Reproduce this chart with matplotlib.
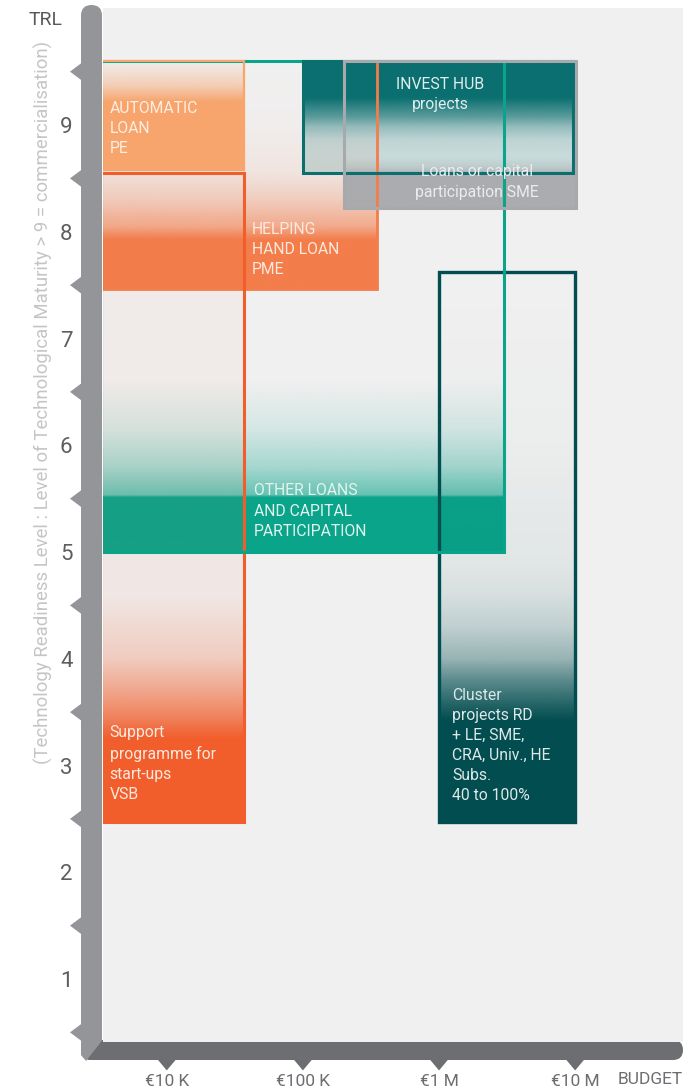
import numpy as np
import matplotlib
matplotlib.use('Agg')
import matplotlib.pyplot as plt
from matplotlib.patches import Rectangle, FancyBboxPatch, Polygon
from matplotlib.colors import to_rgb
import matplotlib.transforms as mtransforms

plt.rcParams['font.family'] = ['Roboto', 'DejaVu Sans']

# funding schemes: budget range (EUR) and TRL range
scheme_labels = [
    'OTHER LOANS\nAND CAPITAL\nPARTICIPATION',
    'HELPING\nHAND LOAN\nPME',
    'Support\nprogramme for\nstart-ups\nVSB',
    'AUTOMATIC\nLOAN\nPE',
    'Cluster\nprojects RD\n+ LE, SME,\nCRA, Univ., HE\nSubs.\n40 to 100%',
    'INVEST HUB\nprojects',
    'Loans or capital\nparticipation SME',
]
budget_min = [3300, 3300, 3300, 3300, 1.0e6, 1.0e5, 2.0e5]
budget_max = [3.0e6, 3.5e5, 3.7e4, 3.7e4, 1.0e7, 9.7e6, 1.02e7]
trl_min = [5.0, 7.46, 2.47, 8.58, 2.47, 8.55, 8.22]
trl_max = [9.6, 9.6, 8.55, 9.6, 7.62, 9.6, 9.6]
colors = ['#0aa48a', '#f37d4b', '#f15e2c', '#f7a56d', '#024d50', '#0b6f70', '#a7a9ac']

# opacity of each fill along the TRL axis
fade_trl = [
    [5.0, 5.51, 5.53, 5.8, 6.15, 6.6, 9.6],
    [7.46, 7.92, 8.05, 8.3, 8.55, 9.0, 9.6],
    [2.47, 3.25, 3.45, 3.7, 4.0, 4.6, 8.55],
    [8.58, 9.22, 9.37, 9.5, 9.6],
    [2.47, 3.42, 3.55, 3.8, 4.0, 4.3, 4.62, 4.93, 6.0, 7.62],
    [8.55, 8.75, 8.86, 8.98, 9.07, 9.25, 9.6],
    [8.22, 8.52, 8.6, 8.68, 9.6],
]
fade_alpha = [
    [1, 1, 0.6, 0.32, 0.12, 0, 0],
    [1, 1, 0.6, 0.3, 0.1, 0.02, 0],
    [1, 1, 0.75, 0.5, 0.25, 0.06, 0.02],
    [1, 1, 0.45, 0.2, 0.05],
    [1, 1, 0.88, 0.62, 0.37, 0.2, 0.1, 0.06, 0.02, 0],
    [0.18, 0.18, 0.22, 0.4, 0.65, 1, 1],
    [0.95, 0.95, 0.3, 0, 0],
]

# where the text of each scheme sits
label_budget = [43600, 42200, 3810, 3810, 1.25e6, 1.016e6, 1.9e6]
label_trl = [5.384, 7.834, 3.019, 8.97, 3.187, 9.286, 8.466]
label_ha = ['left', 'left', 'left', 'left', 'left', 'center', 'center']
label_colors = ['#e2f4ef', '#fde8dd', '#fde8dd', '#fdeee4', '#dde8e8', '#e2eded', '#ececec']

budget_ticks = [1e4, 1e5, 1e6, 1e7]
budget_ticklabels = ['€10 K', '€100 K', '€1 M', '€10 M']
trl_ticks = [1, 2, 3, 4, 5, 6, 7, 8, 9]

fig = plt.figure(figsize=(6.93, 10.91), dpi=100)

# axis bars drawn in pixel space behind the plot
deco = fig.add_axes([0, 0, 1, 1], zorder=0)
deco.set_xlim(0, 693)
deco.set_ylim(1091, 0)
deco.axis('off')
deco.add_patch(FancyBboxPatch((81, 5), 21, 1055, boxstyle='round,pad=0,rounding_size=10.5',
                              fc='#939598', ec='none'))
deco.add_patch(FancyBboxPatch((81, 1040), 602, 20, boxstyle='round,pad=0,rounding_size=10',
                              fc='#6d6e71', ec='none'))
deco.add_patch(Polygon([(81, 1040), (102.5, 1040), (86, 1061), (81, 1055)],
                       closed=True, fc='#939598', ec='none'))

ax = fig.add_axes([103 / 693, 1 - 1042 / 1091, 580 / 693, 1034 / 1091], zorder=1)
ax.set_facecolor('#f0f0f0')

for i in range(len(scheme_labels)):
    x0, x1 = np.log10(budget_min[i]), np.log10(budget_max[i])
    rows = np.linspace(trl_min[i], trl_max[i], 400)
    img = np.zeros((400, 2, 4))
    img[..., :3] = to_rgb(colors[i])
    img[..., 3] = np.interp(rows, fade_trl[i], fade_alpha[i])[:, None]
    ax.imshow(img, extent=[x0, x1, trl_min[i], trl_max[i]], origin='lower',
              aspect='auto', interpolation='bilinear', zorder=2 + i)

outline_order = [1, 2, 4, 0, 3, 5, 6]
outline_width = [2.2, 2.0, 2.2, 1.6, 2.4, 2.2, 2.2]
for k, i in enumerate(outline_order):
    x0, x1 = np.log10(budget_min[i]), np.log10(budget_max[i])
    ax.add_patch(Rectangle((x0, trl_min[i]), x1 - x0, trl_max[i] - trl_min[i],
                           fill=False, ec=colors[i], lw=outline_width[i], zorder=12 + k))

for i in range(len(scheme_labels)):
    ax.text(np.log10(label_budget[i]), label_trl[i], scheme_labels[i], ha=label_ha[i],
            va='center', multialignment=label_ha[i], fontsize=11.3, linespacing=1.42,
            color=label_colors[i], fontweight='normal', zorder=30)

ax.set_xlim(np.log10(3400), np.log10(6.2e7))
ax.set_ylim(0.41, 10.096)
for s in ax.spines.values():
    s.set_visible(False)

ax.set_yticks(trl_ticks)
ax.set_yticklabels([str(t) for t in trl_ticks])
ax.tick_params(axis='y', length=0, pad=22, labelsize=16, labelcolor='#5d5e60')
ax.set_xticks(np.log10(budget_ticks))
ax.set_xticklabels(budget_ticklabels)
ax.tick_params(axis='x', length=0, pad=23, labelsize=12.5, labelcolor='#6d6e71')

# notches on the axis bars
ytr = mtransforms.blended_transform_factory(ax.transAxes, ax.transData)
for t in np.arange(0.5, 10, 1.0):
    ax.add_patch(Polygon([(-0.0569, t), (-0.036, t + 0.085), (-0.036, t - 0.085)],
                         closed=True, fc='#939598', ec='none', transform=ytr, clip_on=False))
xtr = mtransforms.blended_transform_factory(ax.transData, ax.transAxes)
for b in np.log10(budget_ticks):
    ax.add_patch(Polygon([(b - 0.07, -0.0165), (b + 0.07, -0.0165), (b, -0.0275)],
                         closed=True, fc='#6d6e71', ec='none', transform=xtr, clip_on=False))

fig.text(618 / 693, 1 - 1080 / 1091, 'BUDGET', ha='left', va='center', fontsize=12.5,
         color='#6d6e71')
fig.text(46 / 693, 1 - 20 / 1091, 'TRL', ha='center', va='center', fontsize=14,
         color='#58595b')
fig.text(43 / 693, 1 - 402 / 1091,
         '(Technology Readiness Level : Level of Technological Maturity > 9 = commercialisation)',
         rotation=90, ha='center', va='center', fontsize=13.4, color='#c4c5c7')

fig.savefig('out.png', dpi=100)
